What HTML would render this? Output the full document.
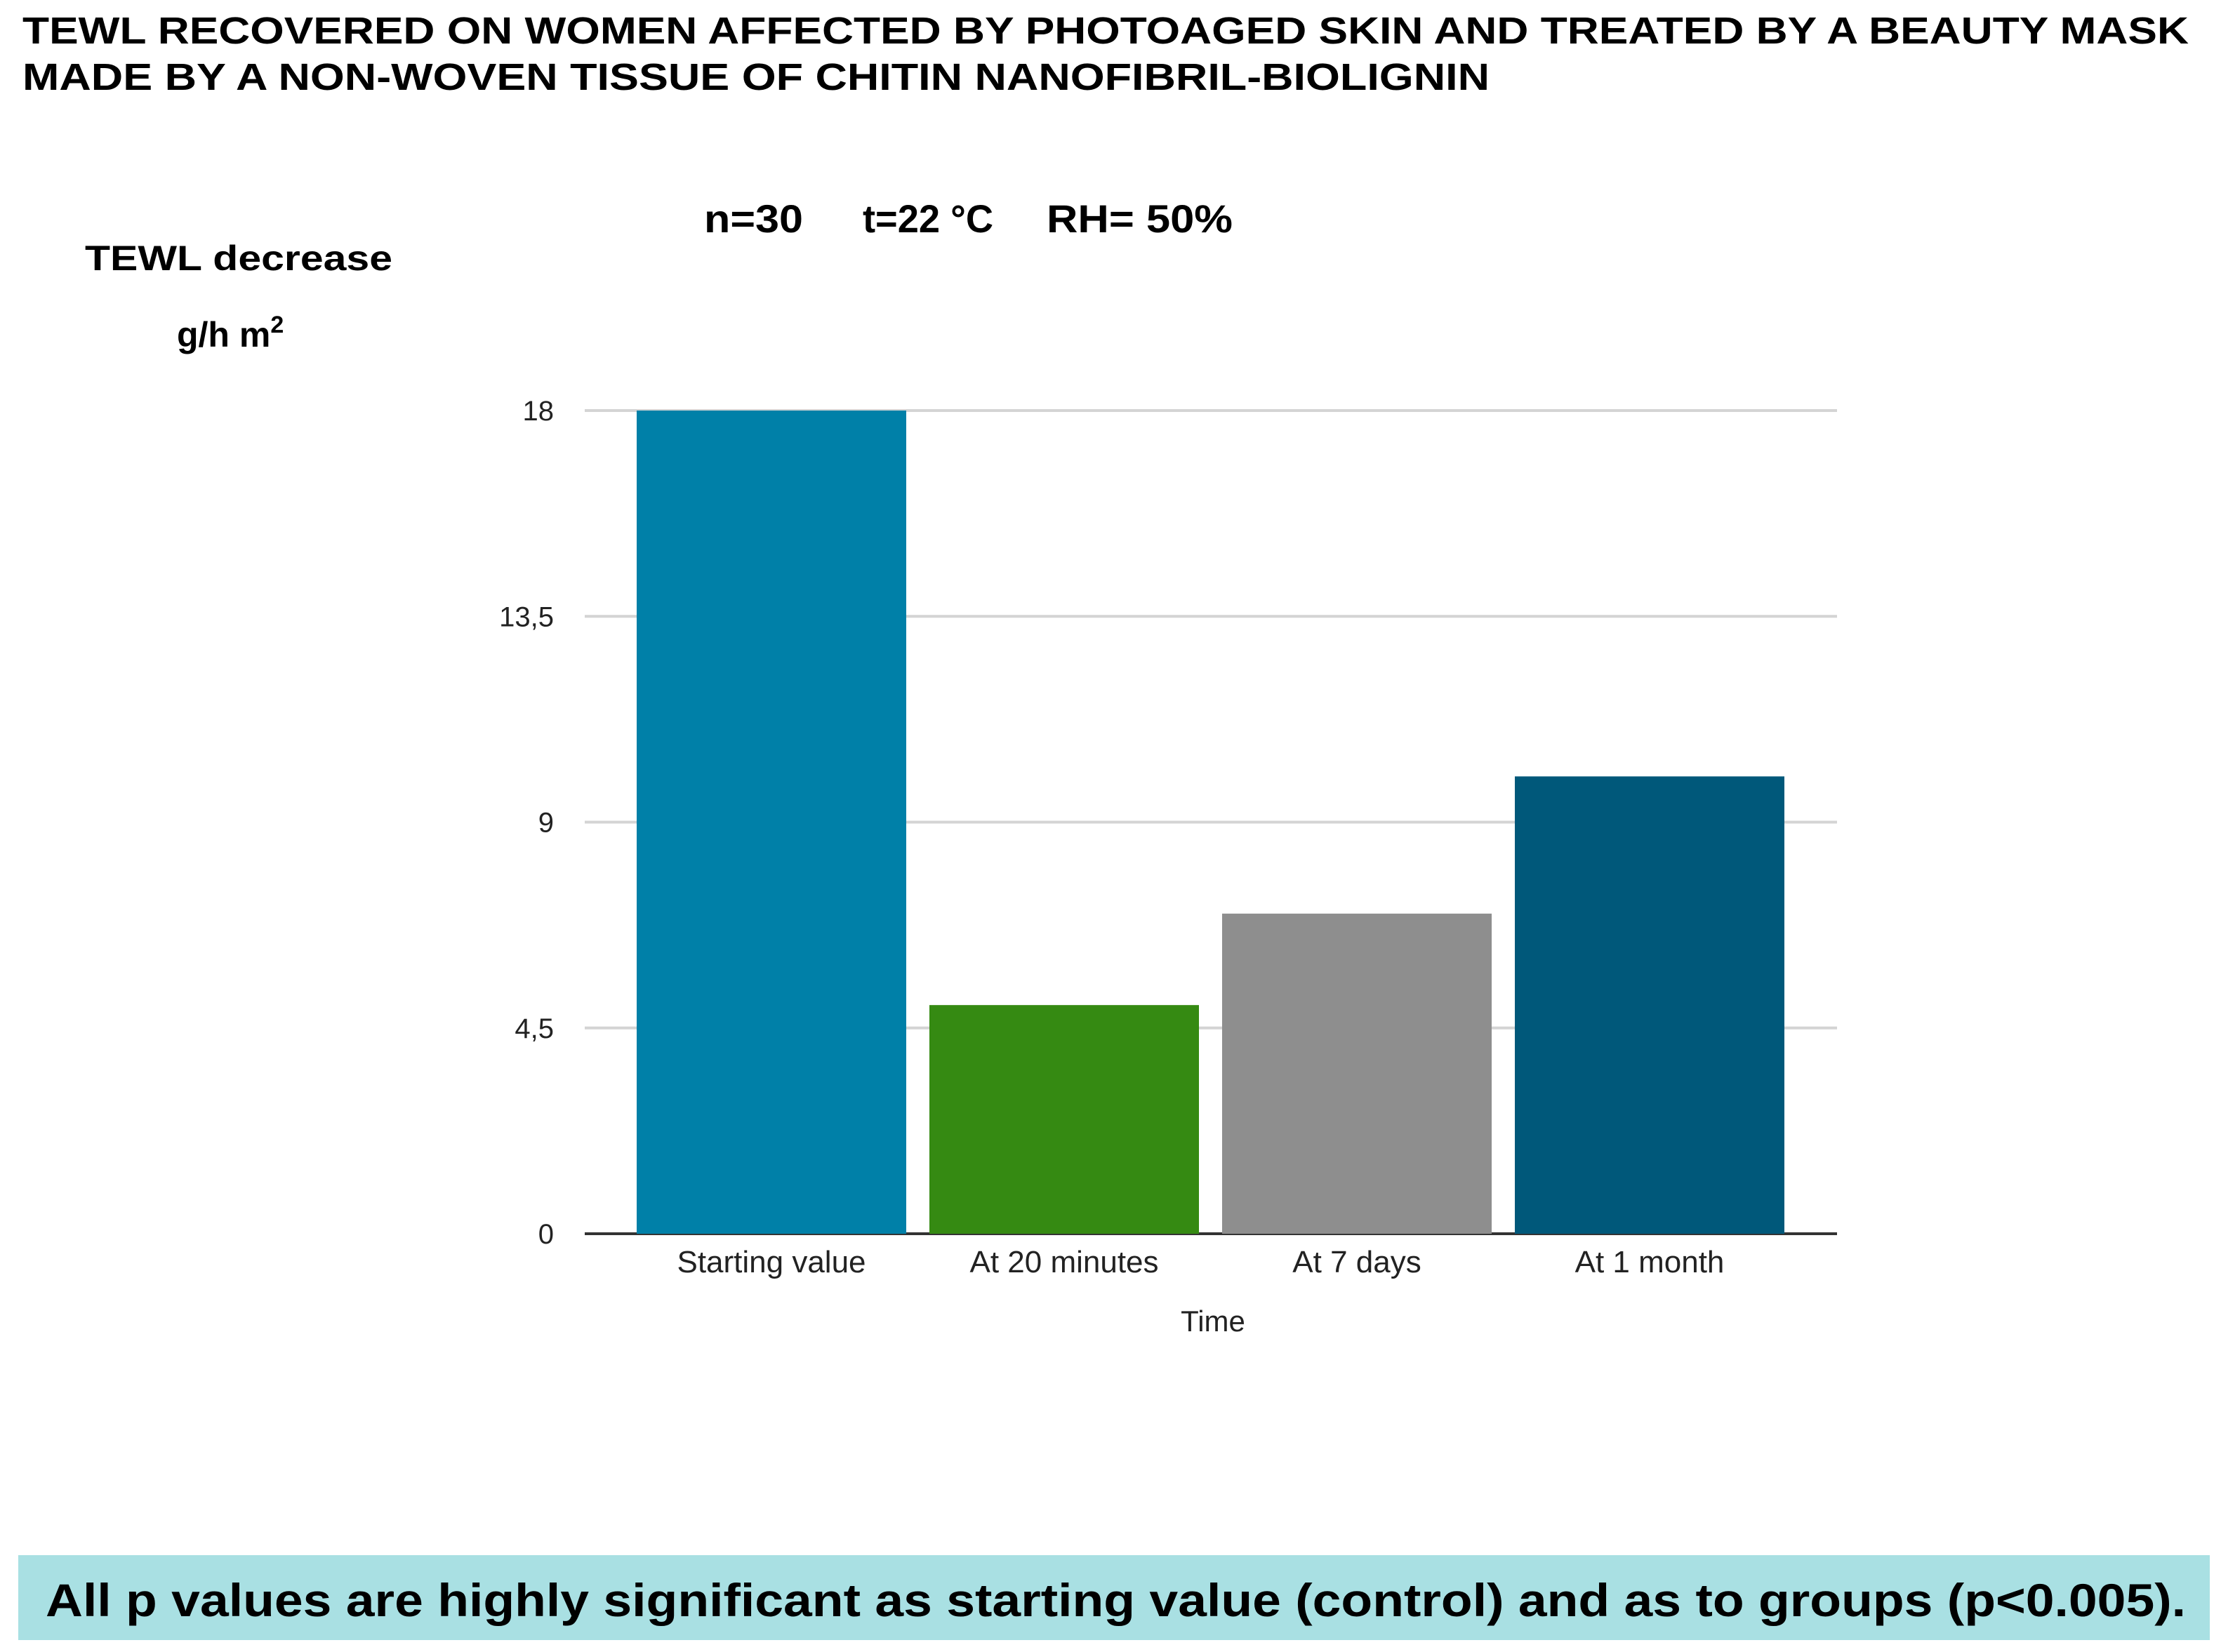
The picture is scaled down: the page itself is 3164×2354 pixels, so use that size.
<!DOCTYPE html>
<html><head><meta charset="utf-8"><style>
html,body{margin:0;padding:0;background:#fff;}
svg{display:block;font-family:"Liberation Sans",Arial,sans-serif;}
</style></head><body>
<svg id="chart" width="3164" height="2354" viewBox="0 0 3164 2354" xmlns="http://www.w3.org/2000/svg">
<text x="32" y="62" font-size="54" font-weight="bold" textLength="3086" lengthAdjust="spacingAndGlyphs">TEWL RECOVERED ON WOMEN AFFECTED BY PHOTOAGED SKIN AND TREATED BY A BEAUTY MASK</text>
<text x="32" y="128" font-size="54" font-weight="bold" textLength="2090" lengthAdjust="spacingAndGlyphs">MADE BY A NON-WOVEN TISSUE OF  CHITIN NANOFIBRIL-BIOLIGNIN</text>
<g>
<text x="1003" y="331" font-size="56" font-weight="bold" textLength="141" lengthAdjust="spacingAndGlyphs">n=30</text>
<text x="1229" y="331" font-size="56" font-weight="bold" textLength="186" lengthAdjust="spacingAndGlyphs">t=22 °C</text>
<text x="1491" y="331" font-size="56" font-weight="bold" textLength="265" lengthAdjust="spacingAndGlyphs">RH= 50%</text>
</g>
<text x="121" y="385" font-size="50" font-weight="bold" textLength="438" lengthAdjust="spacingAndGlyphs">TEWL decrease</text>
<text x="252" y="494" font-size="50" font-weight="bold">g/h m<tspan dy="-20" font-size="34">2</tspan></text>
<g id="grid"></g>
<g id="bars"></g>
<g id="xlabels"></g>
<text x="1728" y="1897" font-size="42" text-anchor="middle" fill="#222">Time</text>
<rect x="26" y="2216" width="3122" height="121" fill="#a9e0e3"/>
<text x="65" y="2303" font-size="66" font-weight="bold" textLength="3049" lengthAdjust="spacingAndGlyphs">All p values are highly significant as starting value (control) and as to groups (p&lt;0.005).</text>
</svg>
<script>
const categories = ["Starting value","At 20 minutes","At 7 days","At 1 month"];
const values = [18, 5, 7, 10];
const tickValues = [0, 4.5, 9, 13.5, 18];
const tickLabels = ["0","4,5","9","13,5","18"];
const colors = ["#0080a8","#358a12","#8e8e8e","#00587a"];

const NS="http://www.w3.org/2000/svg";
const plotL=833, plotR=2617, y0=1758, yTop=585, yMax=18;
const firstCenter=1099, step=417, barW=384;
function yScale(v){return y0-(v/yMax)*(y0-yTop);}
function xCenter(i){return firstCenter+i*step;}
function mk(tag,attrs,parent){const e=document.createElementNS(NS,tag);for(const k in attrs)e.setAttribute(k,attrs[k]);parent.appendChild(e);return e;}
const grid=document.getElementById('grid'), bars=document.getElementById('bars'), xl=document.getElementById('xlabels');
tickValues.forEach((t,i)=>{
  const y=yScale(t);
  const l=mk('line',{x1:plotL,x2:plotR,y1:y,y2:y,stroke:t===0?'#333':'#d4d4d4','stroke-width':4},grid);
  
  
  const tx=mk('text',{x:789,y:y+14,'font-size':40,'text-anchor':'end',fill:'#222'},grid);
  tx.textContent=tickLabels[i];
  
  
});
values.forEach((v,i)=>{
  const y=yScale(v);
  const r=mk('rect',{x:xCenter(i)-barW/2,y:y,width:barW,height:y0-y,fill:colors[i]},bars);
  
  
  const t=mk('text',{x:xCenter(i),y:1813,'font-size':44,'text-anchor':'middle',fill:'#222'},xl);
  t.textContent=categories[i];
  
  
});
</script>
</body></html>
